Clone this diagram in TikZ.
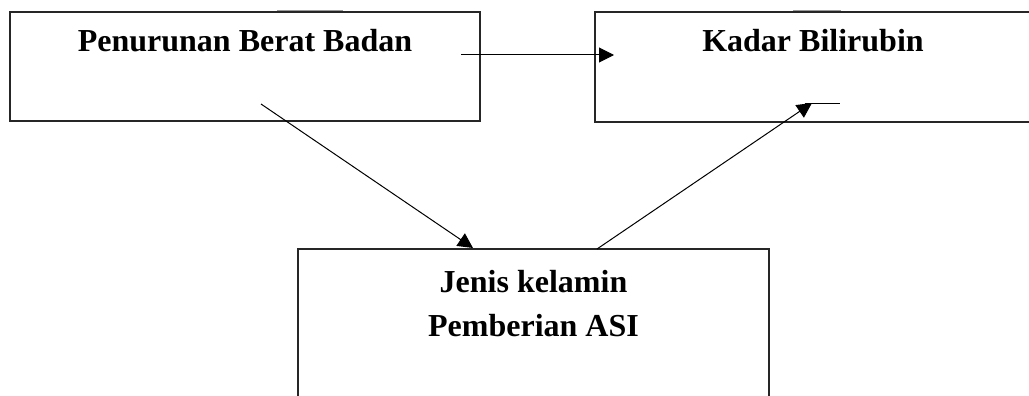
\documentclass[tikz,border=0pt]{standalone}
\usepackage{fontspec}
\setmainfont{Liberation Serif}
\usetikzlibrary{arrows.meta}
\tikzset{
  box/.style={draw=black!85, line width=1.2pt, inner sep=0pt},
  lbl/.style={anchor=base, inner sep=0pt, font=\bfseries\fontsize{32}{38}\selectfont},
  conn/.style={draw=black, line width=1pt, -{Triangle[length=15pt,width=15pt]}},
  faint/.style={draw=black!40, line width=1pt}
}
\begin{document}
\begin{tikzpicture}[x=1pt,y=-1pt]
\useasboundingbox (0,0) rectangle (1029,396);
\clip (0,0) rectangle (1029,396);
% boxes
\node[box, minimum width=470pt, minimum height=109pt] (b1) at (245,66.5) {};
\node[box, minimum width=440pt, minimum height=110pt] (b2) at (815,67) {};
\node[box, minimum width=471pt, minimum height=191pt] (b3) at (533.5,344.5) {};
% labels
\node[lbl] (t1) at (245,52) {Penurunan Berat Badan};
\node[lbl] (t2) at (813,52) {Kadar Bilirubin};
\node[lbl] (t3) at (533.5,292) {Jenis kelamin};
\node[lbl] (t4) at (533.5,336) {Pemberian ASI};
% connector end points
\coordinate (a1s) at (461,55);
\coordinate (a1e) at (614,55);
\coordinate (a2s) at (261,104);
\coordinate (a2e) at (473,248);
\coordinate (a3s) at (597,249);
\coordinate (a3e) at (812,103);
\coordinate (s1) at (805,104);
\coordinate (s2) at (840,104);
\coordinate (g1) at (277,10.5);
\coordinate (g2) at (343,10.5);
\coordinate (g3) at (793,10.5);
\coordinate (g4) at (841,10.5);
% connectors
\draw[conn] (a1s) -- (a1e);
\draw[conn] (a2s) -- (a2e);
\draw[conn] (a3s) -- (a3e);
\draw[draw=black, line width=1pt] (s1) -- (s2);
% faint stray lines
\draw[faint] (g1) -- (g2);
\draw[faint] (g3) -- (g4);
\end{tikzpicture}
\end{document}
